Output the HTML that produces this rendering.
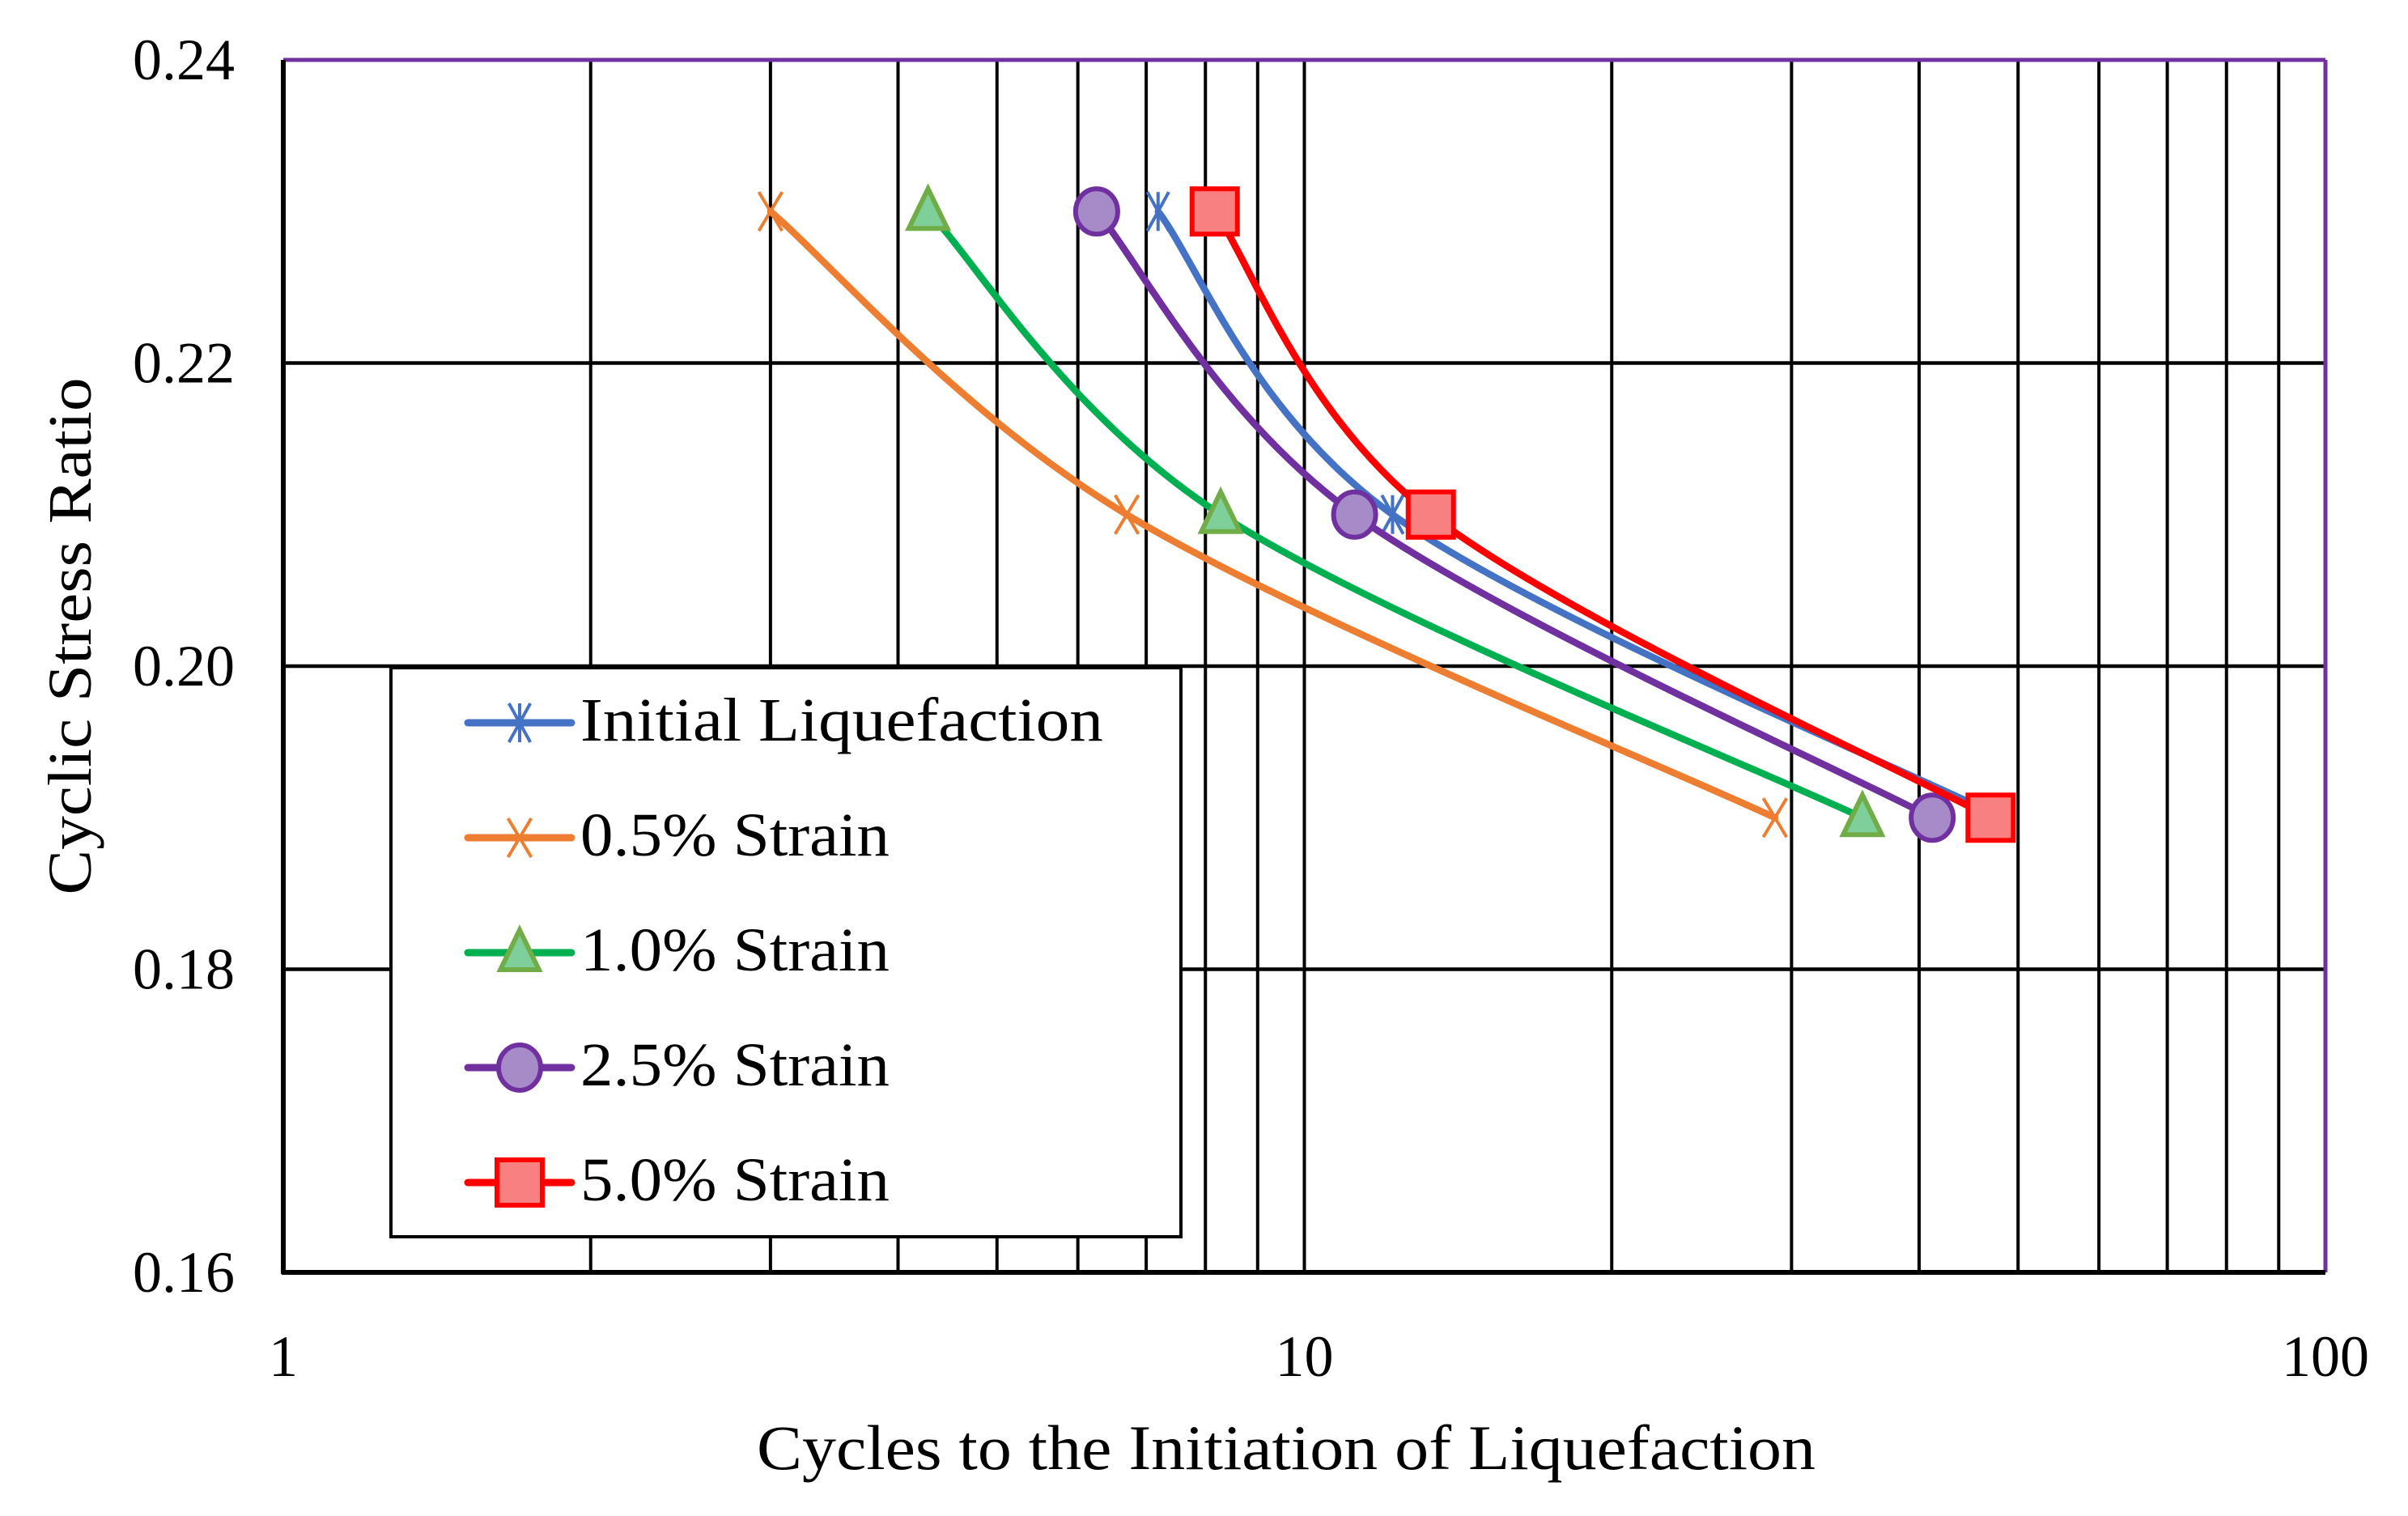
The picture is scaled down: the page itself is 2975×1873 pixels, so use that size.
<!DOCTYPE html>
<html><head><meta charset="utf-8"><style>html,body{margin:0;padding:0;background:#fff}svg{display:block}</style></head>
<body>
<svg id="chart" width="2975" height="1873" viewBox="0 0 2975 1873" xmlns="http://www.w3.org/2000/svg" font-family="'Liberation Serif', serif">
<g id="grid"></g>
<g id="series"></g>
<g id="ticks"></g>
<text x="0" y="0" transform="translate(112,786) rotate(-90)" text-anchor="middle" font-size="76" textLength="639" lengthAdjust="spacingAndGlyphs" fill="#000">Cyclic Stress Ratio</text>
<text x="1589" y="1815" text-anchor="middle" font-size="78" textLength="1308" lengthAdjust="spacingAndGlyphs" fill="#000">Cycles to the Initiation of Liquefaction</text>
<g id="legend"></g>
</svg>
<script>
const seriesNames = ["Initial Liquefaction","0.5% Strain","1.0% Strain","2.5% Strain","5.0% Strain"];
const csr = [0.23, 0.21, 0.19];
const cyclesInitial = [7.19, 12.2, 48.2];
const cycles05 = [3.0, 6.7, 28.9];
const cycles10 = [4.28, 8.28, 35.2];
const cycles25 = [6.26, 11.2, 41.2];
const cycles50 = [8.17, 13.3, 47.0];
const yTicks = [0.16, 0.18, 0.20, 0.22, 0.24];
const yTickLabels = ["0.16","0.18","0.20","0.22","0.24"];
const xTicks = [1, 10, 100];
const xTickLabels = ["1","10","100"];

const PL=350,PR=2873,PT=74,PB=1572;
const xs=v=>PL+(Math.log10(v)-0)/2*(PR-PL);
const ys=v=>PB-(v-0.16)/0.08*(PB-PT);
const NS='http://www.w3.org/2000/svg';
function mk(tag,attrs,parent){const e=document.createElementNS(NS,tag);for(const k in attrs)e.setAttribute(k,attrs[k]);parent.appendChild(e);return e;}
const grid=document.getElementById('grid');
for(let d=1;d<100;d*=10){for(let m=2;m<=9;m++){const x=xs(d*m);
 const l=mk('line',{x1:x,x2:x,y1:PT,y2:PB,stroke:'#000','stroke-width':4},grid);
 
 }}
const vx=xs(10);const l10=mk('line',{x1:vx,x2:vx,y1:PT,y2:PB,stroke:'#000','stroke-width':4},grid);


yTicks.forEach((v,i)=>{if(i>0&&i<yTicks.length-1){const y=ys(v);
 const l=mk('line',{x1:PL,x2:PR,y1:y,y2:y,stroke:'#000','stroke-width':4.5},grid);
 
 }});
const borderTop=mk('line',{x1:PL,x2:PR,y1:PT,y2:PT,stroke:'#7030A0','stroke-width':5},grid);


const borderRight=mk('line',{x1:PR,x2:PR,y1:PT,y2:PB,stroke:'#7030A0','stroke-width':5},grid);


const xa=mk('line',{x1:PL-2,x2:PR,y1:PB,y2:PB,stroke:'#000','stroke-width':6},grid);


const ya=mk('line',{x1:PL,x2:PL,y1:PT,y2:PB+2,stroke:'#000','stroke-width':6},grid);



const tk=document.getElementById('ticks');
yTicks.forEach((v,i)=>{const t=mk('text',{x:290,y:ys(v)+24,'text-anchor':'end','font-size':72},tk);t.textContent=yTickLabels[i];
 
 });
xTicks.forEach((v,i)=>{const t=mk('text',{x:xs(v),y:1700,'text-anchor':'middle','font-size':72},tk);t.textContent=xTickLabels[i];
 
 });

function smooth(pts){let d=`M${pts[0][0]},${pts[0][1]}`;const t=1/6;
 for(let i=0;i<pts.length-1;i++){const p0=pts[Math.max(0,i-1)],p1=pts[i],p2=pts[i+1],p3=pts[Math.min(pts.length-1,i+2)];
  const c1=[p1[0]+(p2[0]-p0[0])*t,p1[1]+(p2[1]-p0[1])*t],c2=[p2[0]-(p3[0]-p1[0])*t,p2[1]-(p3[1]-p1[1])*t];
  d+=` C${c1[0]},${c1[1]} ${c2[0]},${c2[1]} ${p2[0]},${p2[1]}`;}return d;}

function marker(type,x,y,col,g){
 if(type==='asterisk'){const r=24;mk('path',{d:`M${x-r*0.55},${y-r} L${x+r*0.55},${y+r} M${x+r*0.55},${y-r} L${x-r*0.55},${y+r} M${x},${y-r} L${x},${y+r}`,stroke:col,'stroke-width':4,fill:'none'},g);}
 else if(type==='x'){const r=24;mk('path',{d:`M${x-r*0.6},${y-r} L${x+r*0.6},${y+r} M${x+r*0.6},${y-r} L${x-r*0.6},${y+r}`,stroke:col,'stroke-width':4,fill:'none'},g);}
 else if(type==='tri'){const r=28;mk('polygon',{points:`${x},${y-r} ${x+r*0.85},${y+r*0.75} ${x-r*0.85},${y+r*0.75}`,fill:'#7FCF9A',stroke:'#70AD47','stroke-width':6},g);}
 else if(type==='circ'){mk('ellipse',{cx:x,cy:y,rx:26,ry:28,fill:'#A68BC8',stroke:'#7030A0','stroke-width':6},g);}
 else if(type==='sq'){mk('rect',{x:x-28,y:y-28,width:56,height:56,fill:'#F88080',stroke:'#FF0000','stroke-width':6},g);}
}
const defs=[
 {vals:cyclesInitial,col:'#4472C4',m:'asterisk',name:'series-initial-liquefaction'},
 {vals:cycles05,col:'#ED7D31',m:'x',name:'series-0-5-strain'},
 {vals:cycles10,col:'#00B050',m:'tri',name:'series-1-0-strain'},
 {vals:cycles25,col:'#7030A0',m:'circ',name:'series-2-5-strain'},
 {vals:cycles50,col:'#FF0000',m:'sq',name:'series-5-0-strain'}];
const sg=document.getElementById('series');
const order=[1,2,0,3,4];
order.forEach(k=>{const s=defs[k];const g=mk('g',{},sg);
 
 
 const pts=s.vals.map((v,i)=>[xs(v),ys(csr[i])]);
 const p=mk('path',{d:smooth(pts),fill:'none',stroke:s.col,'stroke-width':8.5,'stroke-linecap':'round'},g);
 
 
 pts.forEach(pt=>marker(s.m,pt[0],pt[1],s.col,g));});

const lg=document.getElementById('legend');
const box=mk('rect',{x:483,y:825,width:976,height:703,fill:'#fff',stroke:'#000','stroke-width':4},lg);


const textLens=[646,382,382,382,382];
seriesNames.forEach((n,i)=>{const s=defs[i];const y=893+i*142;const g=mk('g',{},lg);
 
 
 mk('line',{x1:578,x2:706,y1:y,y2:y,stroke:s.col,'stroke-width':9,'stroke-linecap':'round'},g);
 marker(s.m,642,y,s.col,g);
 const t=mk('text',{x:717,y:y+22,'font-size':76,textLength:textLens[i],lengthAdjust:'spacingAndGlyphs'},g);t.textContent=n;});
</script>
</body></html>
